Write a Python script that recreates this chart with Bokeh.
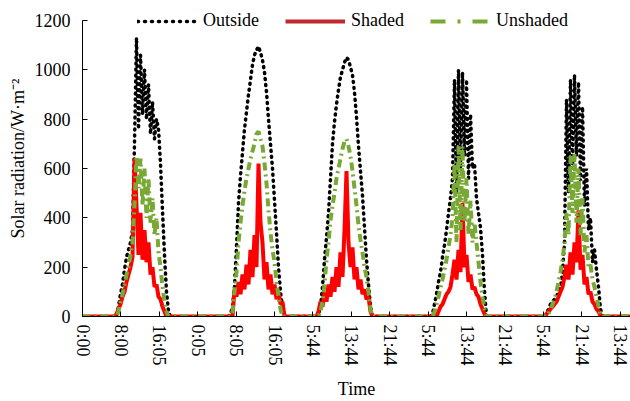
import numpy as np
from bokeh.plotting import figure
from bokeh.models import Range1d, FixedTicker, Legend, LegendItem, ColumnDataSource
from bokeh.embed import file_html
from bokeh.resources import INLINE

FONT = "Liberation Serif"

# x positions are elapsed minutes of the plotted record
tick_minutes = [0, 480, 960, 1440, 1920, 2400, 2880, 3360, 3840, 4320, 4800, 5280, 5760, 6240, 6720]
tick_labels = ["0:00", "8:00", "16:05", "0:05", "8:05", "16:05", "5:44", "13:44",
               "21:44", "5:44", "13:44", "21:44", "5:44", "21:44", "13:44"]
y_ticks = [0, 200, 400, 600, 800, 1000, 1200]

day_start = [375, 1800, 2900, 4325, 5750]   # minute of first sample of each daytime block
sample_step = 25                             # minutes between samples
record_end = 6850

# Outside (W/m2)
outside_d1 = [0, 0, 0, 40, 90, 130, 190, 240, 270, 300, 350, 700, 1130, 760, 1060, 820, 1000, 800, 940, 740,
              870, 720, 800, 760, 620, 430, 250, 100, 20, 0]
outside_d2 = [0, 0, 10, 40, 120, 280, 460, 570, 665, 760, 830, 900, 960, 1020, 1060, 1080, 1095, 1070, 1040, 990,
              910, 800, 700, 600, 470, 340, 200, 100, 36, 0, 0]
outside_d3 = [0, 0, 10, 40, 120, 230, 320, 420, 560, 700, 790, 860, 920, 970, 1000, 1030, 1050, 1040, 1010, 980,
              910, 810, 690, 590, 490, 360, 230, 130, 40, 0, 0]
outside_d4 = [0, 0, 10, 50, 90, 140, 180, 240, 290, 350, 420, 480, 560, 960, 500, 1000, 600, 990, 650, 960,
              560, 820, 600, 620, 480, 420, 360, 250, 100, 0, 0]
outside_d5 = [0, 0, 10, 30, 50, 60, 70, 80, 100, 120, 180, 300, 880, 500, 960, 600, 980, 650, 950, 550,
              850, 450, 600, 350, 400, 220, 270, 190, 120, 30, 0, 0]

# Shaded (W/m2)
shaded_d1 = [0, 0, 10, 30, 50, 80, 100, 140, 170, 200, 240, 640, 450, 250, 420, 230, 350, 220, 300, 170,
             200, 120, 130, 80, 70, 40, 20, 0, 0, 0]
shaded_d2 = [0, 0, 0, 0, 110, 80, 140, 90, 170, 110, 210, 130, 270, 160, 330, 200, 620, 380, 300, 150,
             220, 110, 170, 90, 130, 70, 100, 50, 60, 0, 0]
shaded_d3 = [0, 0, 20, 60, 40, 100, 60, 130, 80, 160, 100, 200, 120, 260, 160, 350, 590, 300, 200, 280,
             150, 200, 110, 150, 90, 110, 70, 80, 20, 0, 0]
shaded_d4 = [0, 0, 0, 0, 0, 20, 40, 50, 70, 90, 100, 120, 170, 230, 150, 270, 180, 460, 200, 250,
             140, 170, 110, 120, 90, 80, 50, 30, 10, 0, 0]
shaded_d5 = [0, 0, 10, 20, 30, 40, 50, 60, 80, 100, 120, 160, 210, 150, 260, 170, 300, 220, 430, 190,
             250, 130, 160, 90, 100, 60, 50, 30, 20, 5, 0, 0]

# Unshaded (W/m2)
unshaded_d1 = [0, 0, 0, 20, 60, 90, 130, 170, 200, 250, 300, 450, 650, 520, 640, 450, 600, 400, 560, 380,
               480, 330, 400, 260, 200, 120, 60, 20, 0, 0]
unshaded_d2 = [0, 0, 0, 20, 100, 180, 300, 380, 450, 510, 560, 600, 640, 670, 700, 740, 750, 720, 690, 620,
               540, 430, 340, 270, 220, 140, 80, 30, 0, 0, 0]
unshaded_d3 = [0, 0, 0, 20, 60, 130, 230, 300, 390, 450, 500, 560, 600, 640, 680, 710, 720, 690, 650, 590,
               520, 450, 370, 310, 260, 200, 160, 100, 30, 0, 0]
unshaded_d4 = [0, 0, 0, 20, 50, 80, 117, 150, 190, 230, 280, 330, 400, 620, 300, 690, 350, 690, 380, 560,
               330, 470, 300, 380, 300, 220, 140, 80, 30, 0, 0]
unshaded_d5 = [0, 0, 0, 10, 30, 50, 70, 100, 140, 180, 230, 300, 420, 330, 650, 420, 660, 380, 600, 330,
               480, 260, 330, 200, 210, 150, 120, 80, 40, 10, 0, 0]


def build(days):
    t, v = [0], [0]
    for start, vals in zip(day_start, days):
        for i, val in enumerate(vals):
            t.append(start + sample_step * i)
            v.append(val)
    t.append(record_end)
    v.append(0)
    return ColumnDataSource(dict(t=t, v=v))


src_out = build([outside_d1, outside_d2, outside_d3, outside_d4, outside_d5])
src_sh = build([shaded_d1, shaded_d2, shaded_d3, shaded_d4, shaded_d5])
src_un = build([unshaded_d1, unshaded_d2, unshaded_d3, unshaded_d4, unshaded_d5])

# frame reaches the top edge; 1200 sits 20 px below it
p = figure(width=630, height=401, output_backend="svg", toolbar_location=None,
           x_range=Range1d(0, record_end), y_range=Range1d(0, 1281),
           min_border_left=82, min_border_right=0, min_border_top=0, min_border_bottom=84)
p.outline_line_color = None
p.grid.visible = False
p.background_fill_color = "white"
p.border_fill_color = "white"

p.line("t", "v", source=src_out, color="black", line_width=3.5, line_dash="1 5", line_cap="round")
p.line("t", "v", source=src_sh, color="#ff0000", line_width=4)
p.line("t", "v", source=src_un, color="#79a935", line_width=4, line_dash="8 4 2 4")


# legend samples: a single undefined row, so nothing appears in the frame
def blank():
    return ColumnDataSource(dict(t=np.array([np.nan]), v=np.array([np.nan])))


leg_out = p.line("t", "v", source=blank(), color="black", line_width=3.5,
                 line_dash="1 6", line_cap="round")
leg_sh = p.line("t", "v", source=blank(), color="#be2a2e", line_width=4)
leg_un = p.line("t", "v", source=blank(), color="#79a935", line_width=4, line_dash="15 12 3 12")

legend = Legend(items=[LegendItem(label="Outside", renderers=[leg_out]),
                       LegendItem(label="Shaded", renderers=[leg_sh]),
                       LegendItem(label="Unshaded", renderers=[leg_un])],
                orientation="horizontal", location=(55, 285),
                glyph_width=60, glyph_height=20, label_height=20,
                label_standoff=6, spacing=26, padding=0, margin=0,
                border_line_color=None, background_fill_alpha=0,
                label_text_font=FONT, label_text_font_size="18px", label_text_color="black")
p.add_layout(legend, "center")

for ax in (p.xaxis[0], p.yaxis[0]):
    ax.major_tick_in = 5
    ax.major_tick_out = 0
    ax.minor_tick_line_color = None
    ax.axis_line_color = "black"
    ax.major_tick_line_color = "black"
    ax.major_label_text_font = FONT
    ax.major_label_text_font_size = "18px"
    ax.major_label_text_color = "black"
    ax.axis_label_text_font = FONT
    ax.axis_label_text_font_size = "18px"
    ax.axis_label_text_font_style = "normal"
    ax.axis_label_text_color = "black"

p.xaxis.ticker = FixedTicker(ticks=tick_minutes)
p.xaxis.major_label_overrides = {m: l for m, l in zip(tick_minutes, tick_labels)}
p.xaxis.major_label_orientation = "vertical"
p.xaxis.major_label_standoff = 8
p.xaxis.axis_label = "Time"
p.xaxis.axis_label_standoff = 10

p.yaxis.ticker = FixedTicker(ticks=y_ticks)
p.yaxis.bounds = (0, 1200)
p.yaxis.major_label_standoff = 12
p.yaxis.axis_label = "Solar radiation/W·m⁻²"
p.yaxis.axis_label_standoff = 4

open("out.html", "w").write(file_html(p, INLINE))
